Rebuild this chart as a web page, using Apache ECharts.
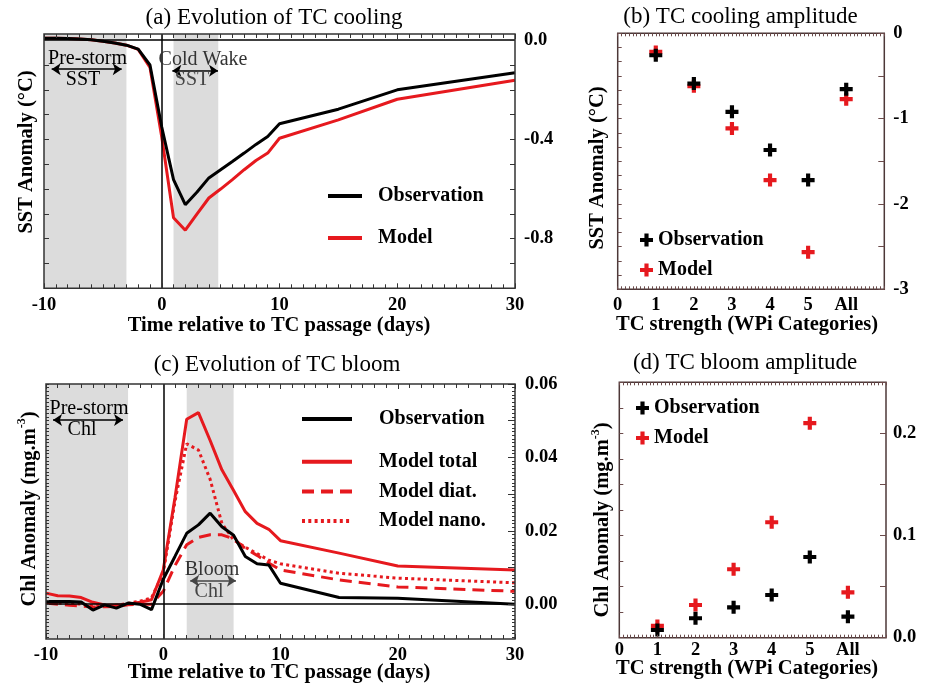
<!DOCTYPE html>
<html><head><meta charset="utf-8">
<script src="https://cdn.jsdelivr.net/npm/echarts@6/dist/echarts.min.js"></script>
<style>html,body{margin:0;padding:0;background:#fff}#c{width:929px;height:687px}</style>
</head><body><div id="c"></div>
<script>
// ---------- data ----------
const days = [-10,-9,-8,-7,-6,-5,-4,-3,-2,-1,0,1,2,3,4,5,6,7,8,9,10,15,20,30];
const sstObs = [0.008,0.008,0.007,0.005,0.002,-0.004,-0.011,-0.02,-0.036,-0.10,-0.35,-0.562,-0.663,-0.612,-0.555,-0.522,-0.489,-0.455,-0.42,-0.388,-0.337,-0.278,-0.200,-0.131];
const sstMod = [0.008,0.008,0.007,0.005,0.002,-0.004,-0.011,-0.02,-0.037,-0.11,-0.39,-0.716,-0.766,-0.700,-0.636,-0.600,-0.562,-0.522,-0.485,-0.455,-0.395,-0.321,-0.238,-0.161];
const chlObs = [0.0007,0.0007,0.0007,0.0006,-0.0016,-0.0002,-0.0011,0.0003,0.0,-0.0015,0.0068,0.013,0.0193,0.0216,0.0248,0.0211,0.0188,0.013,0.011,0.0107,0.0057,0.0018,0.0016,0.0];
const chlTotal = [0.003,0.0023,0.0022,0.0018,0.0005,-0.0002,-0.0003,0.0,0.0005,0.0012,0.0093,0.029,0.0504,0.0522,0.0446,0.0366,0.031,0.0252,0.022,0.0204,0.0173,0.0139,0.0104,0.0093];
const chlDiat = [0.0003,0.0,-0.0003,-0.0005,-0.0008,-0.0007,-0.0006,-0.0002,0.0,0.0,0.0035,0.0105,0.0162,0.0182,0.0189,0.0189,0.0178,0.0152,0.0133,0.0112,0.0093,0.0066,0.0047,0.0035];
const chlNano = [0.0005,0.0003,0.0002,0.0,-0.0005,-0.0004,-0.0003,0.0002,0.0008,0.0017,0.0085,0.028,0.0437,0.042,0.034,0.022,0.0175,0.0155,0.0138,0.012,0.011,0.0084,0.0071,0.0058];
const wpiX = [1,2,3,4,5,6];
const wpiLabels = ['0','1','2','3','4','5','All'];
const coolObs = [-0.257,-0.589,-0.92,-1.368,-1.72,-0.655];
const coolMod = [-0.218,-0.62,-1.115,-1.72,-2.565,-0.772];
const bloomObs = [0.0075,0.019,0.0297,0.0418,0.079,0.0206];
const bloomMod = [0.0115,0.032,0.067,0.113,0.21,0.0444];
const sstLabelVals = [0,-0.4,-0.8];
const coolLabelVals = [0,-1,-2,-3];
const chlLabelVals = [0,0.02,0.04,0.06];
const bloomLabelVals = [0,0.1,0.2];
const wpiLabelVals = [0,1,2,3,4,5,6];

// ---------- style ----------
const FF = 'Liberation Serif';
const RED = '#e6191e', BLK = '#000';
const FR1 = '#333', FR2 = '#4d3838', TK2 = '#6b4b4b';
const PLUS = 'path://M34,0H66V34H100V66H66V100H34V66H0V34H34Z';
const names = {aObs:'Observation',aMod:'Model',bObs:'Observation',bMod:'Model',cObs:'Observation',cTot:'Model total',cDia:'Model diat.',cNan:'Model nano.',dObs:'Observation',dMod:'Model'};
function steps(a,b,s){const r=[];const n=Math.round((b-a)/s);for(let i=0;i<=n;i++)r.push(+(a+i*s).toFixed(6));return r;}
const lblStyle = {fontFamily:FF,fontSize:18.5,fontWeight:'bold',color:BLK};

function xTime(grid, top){
  return {type:'value',gridIndex:grid,min:-10,max:30,interval:10,position:top?'top':'bottom',z:10,
    axisLine:{show:false,onZero:false},splitLine:{show:false},
    axisTick:{show:true,inside:true,length:5,lineStyle:{color:FR1,width:1}},
    minorTick:{show:true,splitNumber:10,length:4,lineStyle:{color:FR1,width:1}},
    axisLabel:top?{show:false}:Object.assign({margin:7},lblStyle)};
}
function xCat(grid, top, margin){
  return {type:'value',gridIndex:grid,min:0,max:7,position:top?'top':'bottom',z:10,
    axisLine:{show:false,onZero:false},splitLine:{show:false},
    axisTick:{show:true,inside:true,length:3,customValues:steps(0,7,0.1),lineStyle:{color:TK2,width:1}},
    axisLabel:top?{show:false}:Object.assign({margin:margin,customValues:wpiLabelVals,formatter:v=>wpiLabels[Math.round(v)]},lblStyle)};
}
function yAx(grid,min,max,pos,ticks,len,col,labels,fmt,margin){
  return {type:'value',gridIndex:grid,min:min,max:max,position:pos,z:10,
    axisLine:{show:false,onZero:false},splitLine:{show:false},
    axisTick:{show:true,inside:true,length:len,customValues:ticks,lineStyle:{color:col,width:1}},
    axisLabel:labels?Object.assign({margin:margin,customValues:labels,formatter:fmt},lblStyle):{show:false}};
}

const grids = [
  {left:44,top:34,width:471,height:254.3,show:true,borderColor:FR1,borderWidth:1.5,z:10},
  {left:617.7,top:33.3,width:266.6,height:256,show:true,borderColor:FR2,borderWidth:1.5,z:10},
  {left:46,top:384,width:469,height:255,show:true,borderColor:FR1,borderWidth:1.5,z:10},
  {left:619.3,top:382.3,width:266.7,height:255.4,show:true,borderColor:FR2,borderWidth:1.5,z:10}
];
const xAxes = [xTime(0,false),xTime(0,true),xCat(1,false,6),xCat(1,true),xTime(2,false),xTime(2,true),xCat(3,false,3),xCat(3,true)];
const yAxes = [
  yAx(0,-1.0,0.025,'left',steps(-1,0,0.1),5,FR1),
  yAx(0,-1.0,0.025,'right',steps(-1,0,0.1),5,FR1,sstLabelVals,v=>v.toFixed(1),9),
  yAx(1,-3,0,'left',steps(-3,0,1/6),4,TK2),
  yAx(1,-3,0,'right',steps(-3,0,0.5),6,TK2,coolLabelVals,v=>String(Math.round(v)),9),
  yAx(2,-0.0095,0.06,'left',steps(-0.009,0.06,0.001),3,FR1),
  yAx(2,-0.0095,0.06,'right',steps(-0.009,0.06,0.001),3,FR1,chlLabelVals,v=>v.toFixed(2),10),
  yAx(2,-0.0095,0.06,'right',steps(0,0.06,0.01),7,FR1),
  yAx(3,0,0.25,'left',steps(0,0.25,0.025),4,TK2),
  yAx(3,0,0.25,'right',steps(0,0.25,0.05),6,TK2,bloomLabelVals,v=>v.toFixed(1),7)
];

function pairs(xs,ys){return xs.map((x,i)=>[x,ys[i]]);}
function lineS(name,xi,yi,ys,color,type){
  return {name:name,type:'line',xAxisIndex:xi,yAxisIndex:yi,data:pairs(days,ys),showSymbol:false,symbol:'none',z:3,
    lineStyle:{color:color,width:3,type:type||'solid',cap:'butt'},itemStyle:{color:color},animation:false};
}
function plusS(name,xi,yi,ys,color){
  return {name:name,type:'scatter',xAxisIndex:xi,yAxisIndex:yi,data:pairs(wpiX,ys),symbol:PLUS,symbolSize:13,z:3,
    itemStyle:{color:color,opacity:1},animation:false};
}
function shade(xi,yi,ranges){
  return {type:'line',xAxisIndex:xi,yAxisIndex:yi,data:[],z:1,silent:true,animation:false,
    markArea:{silent:true,itemStyle:{color:'#dcdcdc',opacity:1},data:ranges.map(r=>[{xAxis:r[0]},{xAxis:r[1]}])}};
}
function zeroLines(xi,yi){
  return {type:'line',xAxisIndex:xi,yAxisIndex:yi,data:[],z:2,silent:true,animation:false,
    markLine:{silent:true,symbol:'none',label:{show:false},lineStyle:{color:BLK,width:1.5,type:'solid'},animation:false,
      data:[{yAxis:0},{xAxis:0}]}};
}
function arrowS(xi,yi,list){
  return {type:'line',xAxisIndex:xi,yAxisIndex:yi,data:[],z:4,silent:true,animation:false,
    markLine:{silent:true,symbol:['arrow','arrow'],symbolSize:9,label:{show:false},animation:false,
      data:list.map(a=>[{coord:[a[0],a[2]],lineStyle:{color:a[3],width:1.5,type:'solid'}},{coord:[a[1],a[2]]}])}};
}

const series = [
  shade(0,0,[[-10,-3],[1,4.8]]), zeroLines(0,0),
  arrowS(0,0,[[-9.35,-3.4,-0.117,BLK],[0.9,4.78,-0.123,BLK]]),
  lineS('aMod',0,0,sstMod,RED), lineS('aObs',0,0,sstObs,BLK),
  plusS('bMod',2,2,coolMod,RED), plusS('bObs',2,2,coolObs,BLK),
  shade(4,4,[[-10,-3],[2,6]]), zeroLines(4,4),
  arrowS(4,4,[[-9.4,-3.43,0.0502,BLK],[2.3,6.2,0.0064,'#444']]),
  lineS('cNan',4,4,chlNano,RED,[3,3.3]), lineS('cDia',4,4,chlDiat,RED,[12,7]), lineS('cTot',4,4,chlTotal,RED), lineS('cObs',4,4,chlObs,BLK),
  plusS('dMod',6,7,bloomMod,RED), plusS('dObs',6,7,bloomObs,BLK)
];

const legTxt = (pad)=>({fontFamily:FF,fontSize:20,fontWeight:'bold',color:BLK,padding:[0,0,0,pad],lineHeight:22});
const noSym = {opacity:0,color:'rgba(0,0,0,0)',borderWidth:0};
const legLine = {width:4};
const legends = [
  {data:['aObs','aMod'],orient:'vertical',left:321,top:180,itemWidth:34,itemHeight:14,itemGap:20,formatter:n=>names[n],textStyle:legTxt(11),itemStyle:noSym,lineStyle:legLine,selectedMode:false},
  {data:['cObs'],orient:'vertical',left:295,top:403,itemWidth:50,itemHeight:14,itemGap:8,formatter:n=>names[n],textStyle:legTxt(22),itemStyle:noSym,lineStyle:legLine,selectedMode:false},
  {data:['cTot','cDia','cNan'],orient:'vertical',left:295,top:445.7,itemWidth:50,itemHeight:14,itemGap:7.7,formatter:n=>names[n],textStyle:legTxt(22),itemStyle:noSym,lineStyle:legLine,selectedMode:false},
  {data:['bObs','bMod'],orient:'vertical',left:635,top:224,itemWidth:13,itemHeight:13,itemGap:8,formatter:n=>names[n],textStyle:legTxt(0),itemStyle:{opacity:1},selectedMode:false},
  {data:['dObs','dMod'],orient:'vertical',left:631,top:392,itemWidth:13,itemHeight:13,itemGap:8,formatter:n=>names[n],textStyle:legTxt(0),itemStyle:{opacity:1},selectedMode:false}
];

function txt(s,x,y,size,weight,color,rot){
  return {type:'text',x:x,y:y,rotation:rot||0,z:20,silent:true,
    style:{text:s,fontFamily:FF,fontSize:size,fontWeight:weight,fill:color||BLK,
      align:'center',verticalAlign:'middle',textAlign:'center',textVerticalAlign:'middle'}};
}
function chlName(x,y){
  return {type:'text',x:x,y:y,rotation:Math.PI/2,z:20,silent:true,
    style:{text:'{a|Chl Anomaly (mg.m}{s|-3}{a|)}',fill:BLK,align:'center',verticalAlign:'middle',textAlign:'center',textVerticalAlign:'middle',
      rich:{a:{fontFamily:FF,fontSize:20.5,fontWeight:'bold',fill:BLK,lineHeight:24,verticalAlign:'bottom'},
            s:{fontFamily:FF,fontSize:12,fontWeight:'bold',fill:BLK,lineHeight:24,verticalAlign:'top'}}}};
}
const graphics = [
  txt('(a) Evolution of TC cooling',274,18,23,'normal'),
  txt('(b) TC cooling amplitude',740.5,17,23,'normal'),
  txt('(c) Evolution of TC bloom',277,365,23,'normal'),
  txt('(d) TC bloom amplitude',745,363,23,'normal'),
  txt('Time relative to TC passage (days)',279,326,20.5,'bold'),
  txt('Time relative to TC passage (days)',279,673,20.5,'bold'),
  txt('TC strength (WPi Categories)',747,325,20.5,'bold'),
  txt('TC strength (WPi Categories)',747,669,20.5,'bold'),
  txt('SST Anomaly (°C)',27,152,20.5,'bold',BLK,Math.PI/2),
  txt('SST Anomaly (°C)',598,168,20.5,'bold',BLK,Math.PI/2),
  chlName(28,509), chlName(601.7,520),
  txt('Pre-storm',87.5,58.3,20,'normal'),
  txt('SST',83,79.5,20,'normal'),
  txt('Cold Wake',203,59.3,20,'normal','#333'),
  txt('SST',192,80,20,'normal','#444'),
  txt('Pre-storm',89,408.3,20,'normal'),
  txt('Chl',82,430,20,'normal'),
  txt('Bloom',212,570,20,'normal','#333'),
  txt('Chl',209,591.7,20,'normal','#444')
];

const chart = echarts.init(document.getElementById('c'),null,{renderer:'canvas'});
chart.setOption({animation:false,backgroundColor:'#fff',grid:grids,xAxis:xAxes,yAxis:yAxes,series:series,legend:legends,graphic:graphics});
</script></body></html>
